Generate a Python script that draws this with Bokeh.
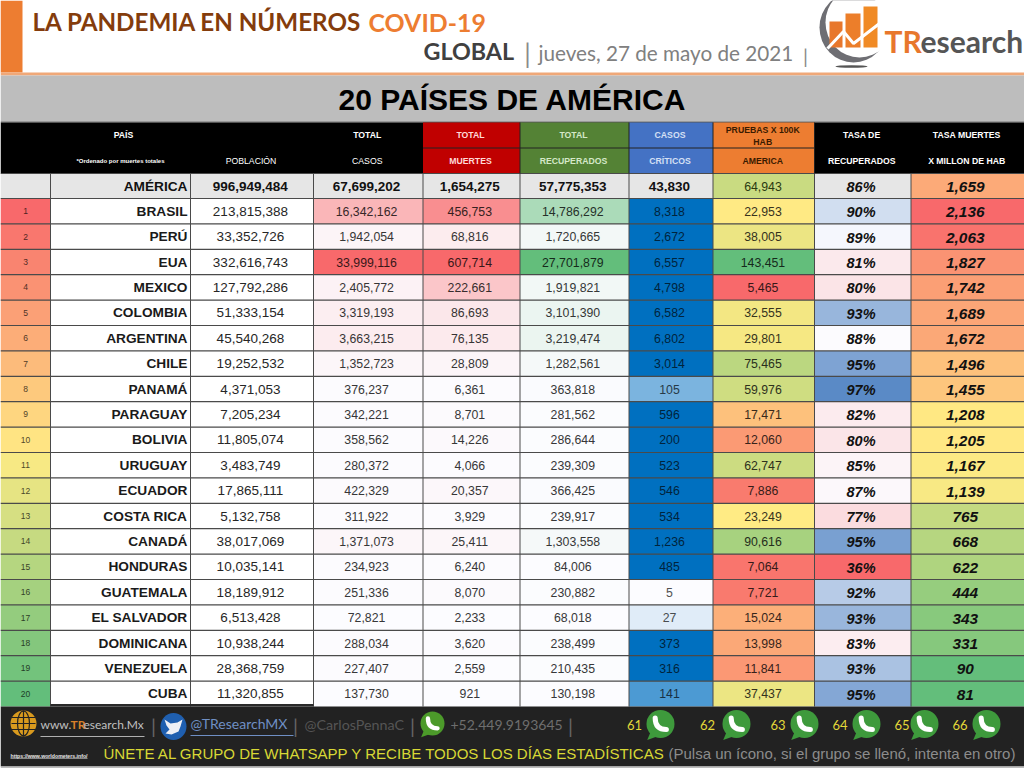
from bokeh.plotting import figure
from bokeh.models import Range1d
from bokeh.core.properties import value
from bokeh.embed import file_html
from bokeh.resources import INLINE
import numpy as np

# ---------- data ----------
PAISES = ["BRASIL", "PERÚ", "EUA", "MEXICO", "COLOMBIA", "ARGENTINA", "CHILE", "PANAMÁ", "PARAGUAY", "BOLIVIA",
          "URUGUAY", "ECUADOR", "COSTA RICA", "CANADÁ", "HONDURAS", "GUATEMALA", "EL SALVADOR", "DOMINICANA",
          "VENEZUELA", "CUBA"]
POBLACION = [213815388, 33352726, 332616743, 127792286, 51333154, 45540268, 19252532, 4371053, 7205234, 11805074,
             3483749, 17865111, 5132758, 38017069, 10035141, 18189912, 6513428, 10938244, 28368759, 11320855]
CASOS = [16342162, 1942054, 33999116, 2405772, 3319193, 3663215, 1352723, 376237, 342221, 358562,
         280372, 422329, 311922, 1371073, 234923, 251336, 72821, 288034, 227407, 137730]
MUERTES = [456753, 68816, 607714, 222661, 86693, 76135, 28809, 6361, 8701, 14226,
           4066, 20357, 3929, 25411, 6240, 8070, 2233, 3620, 2559, 921]
RECUPERADOS = [14786292, 1720665, 27701879, 1919821, 3101390, 3219474, 1282561, 363818, 281562, 286644,
               239309, 366425, 239917, 1303558, 84006, 230882, 68018, 238499, 210435, 130198]
CRITICOS = [8318, 2672, 6557, 4798, 6582, 6802, 3014, 105, 596, 200, 523, 546, 534, 1236, 485, 5, 27, 373, 316, 141]
PRUEBAS = [22953, 38005, 143451, 5465, 32555, 29801, 75465, 59976, 17471, 12060,
           62747, 7886, 23249, 90616, 7064, 7721, 15024, 13998, 11841, 37437]
TASA_REC = [90, 89, 81, 80, 93, 88, 95, 97, 82, 80, 85, 87, 77, 95, 36, 92, 93, 83, 93, 95]
TASA_MUE = [2136, 2063, 1827, 1742, 1689, 1672, 1496, 1455, 1208, 1205, 1167, 1139, 765, 668, 622, 444, 343, 331, 90, 81]
AMERICA = {"pais": "AMÉRICA", "pob": 996949484, "casos": 67699202, "muertes": 1654275, "rec": 57775353,
           "crit": 43830, "pruebas": 64943, "tasa": 86, "tm": 1659}
HDR_TOP = ["PAÍS", "TOTAL", "TOTAL", "TOTAL", "CASOS", "TASA DE", "TASA MUERTES"]
HDR_BOT = ["POBLACIÓN", "CASOS", "MUERTES", "RECUPERADOS", "CRÍTICOS", "AMERICA", "RECUPERADOS", "X MILLON DE HAB"]
GRUPOS = [61, 62, 63, 64, 65, 66]

# ---------- layout ----------
XE = [0, 50, 190, 313, 422.5, 519.5, 628.5, 712.5, 814, 910.5, 1024]
ROW_H = (706 - 198) / 20
NAR = "Lato"
SANS = "Liberation Sans"


def h2r(h):
    h = h.lstrip("#")
    return [int(h[i:i + 2], 16) for i in (0, 2, 4)]


def lerp(a, b, t):
    t = max(0.0, min(1.0, t))
    ra, rb = h2r(a), h2r(b)
    return "#%02x%02x%02x" % tuple(int(round(x + (y - x) * t)) for x, y in zip(ra, rb))


def scale3(v, lo, mid, hi, c0, c1, c2):
    return lerp(c0, c1, (v - lo) / (mid - lo)) if v <= mid else lerp(c1, c2, (v - mid) / (hi - mid))


RED, YEL, GRN, WHT, BLU, DBL = "#F8696B", "#FFEB84", "#63BE7B", "#FCFCFF", "#5A8AC6", "#0070C0"
GREY_ROW = "#E6E6E6"

p = figure(width=1024, height=768, x_range=Range1d(0, 1024), y_range=Range1d(768, 0),
           output_backend="svg", toolbar_location=None, min_border=0, outline_line_color=None,
           background_fill_color="white", border_fill_color="white")
p.axis.visible = False
p.grid.visible = False


def box(l, r, t, b, c):
    p.quad(left=l, right=r, top=t, bottom=b, fill_color=c, line_color=None)


def txt(x, y, s, size, color="#000000", font=SANS, style="normal", align="center", base="middle"):
    p.text(x=[x], y=[y], text=[s], text_font=value(font), text_font_size=f"{size}px", text_font_style=style,
           text_color=color, text_align=align, text_baseline=base)


def column(i, fills, labels, size=13.5, colors="#1a1a1a", style="normal", dy=0.0, dx=-1.7):
    l = [XE[i]] * len(fills)
    r = [XE[i + 1]] * len(fills)
    t = [198 + ROW_H * k for k in range(len(fills))]
    b = [198 + ROW_H * (k + 1) for k in range(len(fills))]
    p.quad(left=l, right=r, top=t, bottom=b, fill_color=fills, line_color=None)
    cx = (XE[i] + XE[i + 1]) / 2 + dx
    ys = [198 + ROW_H * (k + .5) + dy for k in range(len(fills))]
    tc = colors if isinstance(colors, list) else [colors] * len(fills)
    p.text(x=[cx] * len(fills), y=ys, text=labels, text_font=value(SANS), text_font_size=f"{size}px",
           text_font_style=style, text_color=tc, text_align="center", text_baseline="middle")


# ---------- page furniture ----------
box(0, 22, 0, 72, "#ED7D31")
box(0, 1024, 72, 75, "#F0A878")
box(0, 1024, 75, 121, "#BDBDBD")
box(0, 1024, 121, 122, "#555555")
txt(32, 21, "LA PANDEMIA EN NÚMEROS", 24.2, "#843C0C", NAR, "bold", "left")
txt(368, 21, "COVID-19", 24.9, "#ED7D31", NAR, "bold", "left")
txt(423, 50, "GLOBAL", 23.3, "#404040", NAR, "bold", "left")
txt(527, 52, "|", 26, "#8a8a8a", NAR, "normal")
txt(538, 52, "jueves, 27 de mayo de 2021", 20.7, "#808080", NAR, "normal", "left")
txt(805, 55, "|", 20, "#8a8a8a", NAR, "normal")
txt(512, 99, "20 PAÍSES DE AMÉRICA", 30, "#000000", SANS, "bold")

# logo
p.ellipse(x=[853], y=[27], width=[68], height=[70], fill_color="#6E6E73", line_color=None)
p.ellipse(x=[859], y=[22], width=[68], height=[70], fill_color="white", line_color=None)
p.ellipse(x=[851], y=[66], width=[32], height=[2.5], fill_color="#555555", line_color=None)
for l, r, t, c in [(829, 842, 21, "#E8772C"), (845, 860, 13, "#EC7E2A"), (863, 877, 6, "#F08A25")]:
    box(l, r, t, 47, c)
p.line(x=[827, 843, 853, 879], y=[48, 31, 43, 23], line_color="white", line_width=3)
txt(884, 40, "TR", 30, "#E8772C", NAR, "bold", "left")
txt(920, 40, "esearch", 30, "#555555", NAR, "bold", "left")

# ---------- header ----------
box(0, 1024, 122, 173, "#000000")
HCOLS = [(4, "#C00000"), (5, "#548235"), (6, "#4472C4"), (7, "#ED7D31")]
for i, c in HCOLS:
    box(XE[i], XE[i + 1], 122, 173, c)
    box(XE[i], XE[i + 1], 147, 148, "#222222")
ct = [(XE[1] + XE[2]) / 2 + 4, (XE[3] + XE[4]) / 2, (XE[4] + XE[5]) / 2, (XE[5] + XE[6]) / 2,
      (XE[6] + XE[7]) / 2, (XE[8] + XE[9]) / 2, (XE[9] + XE[10]) / 2]
tcs = ["#FFFFFF", "#FFFFFF", "#FFD9D9", "#D5E8C8", "#D5E0F5", "#FFFFFF", "#FFFFFF"]
for k, s in enumerate(HDR_TOP):
    txt(ct[k] - 1, 134.5, s, 8.7, tcs[k], SANS, "bold")
txt((XE[7] + XE[8]) / 2 - 1, 129.5, "PRUEBAS X 100K", 8.7, "#3A1A00", SANS, "bold")
txt((XE[7] + XE[8]) / 2 - 1, 141.5, "HAB", 8.7, "#3A1A00", SANS, "bold")
txt(120, 160, "*Ordenado por muertes totales", 6, "#FFFFFF", SANS, "bold")
cb = [(XE[i] + XE[i + 1]) / 2 - 1 for i in range(2, 10)]
tb = ["#FFFFFF", "#FFFFFF", "#FFD9D9", "#D5E8C8", "#D5E0F5", "#3A1A00", "#FFFFFF", "#FFFFFF"]
for k, s in enumerate(HDR_BOT):
    txt(cb[k], 160.5, s, 8.7, tb[k], SANS, "bold" if k >= 2 else "normal")

# ---------- colour scales ----------
n = len(PAISES)
tasa_real = [100 * a / b for a, b in zip(RECUPERADOS, CASOS)]
rank_f = [scale3(k + 1, 1, 10.5, 20, RED, YEL, GRN) for k in range(n)]
cas_f = [lerp(WHT, RED, (v - min(CASOS)) / (max(CASOS) - min(CASOS))) for v in CASOS]
mue_f = [lerp(WHT, RED, (v - min(MUERTES)) / (max(MUERTES) - min(MUERTES))) for v in MUERTES]
rec_f = [lerp(WHT, GRN, (v - min(RECUPERADOS)) / (max(RECUPERADOS) - min(RECUPERADOS))) for v in RECUPERADOS]
crit_f = [lerp(WHT, DBL, (v - 5) / 195) for v in CRITICOS]
pr_med = float(np.median(PRUEBAS))
pr = lambda v: scale3(v, min(PRUEBAS), pr_med, max(PRUEBAS), RED, YEL, GRN)
pru_f = [pr(v) for v in PRUEBAS]
tr_med = float(np.median(tasa_real))
tas_f = [scale3(v, min(tasa_real), tr_med, max(tasa_real), RED, WHT, BLU) for v in tasa_real]
tm_med = float(np.median(TASA_MUE))
tm = lambda v: scale3(v, min(TASA_MUE), tm_med, max(TASA_MUE), GRN, YEL, RED)
tmu_f = [tm(v) for v in TASA_MUE]

fmt = lambda a: [f"{v:,}" for v in a]
dark = lambda fills, t: [lerp(f, "#000000", t) for f in fills]

# ---------- America row ----------
box(0, 1024, 173, 198, GREY_ROW)
box(XE[7], XE[8], 173, 198, pr(AMERICA["pruebas"]))
box(XE[9], XE[10], 173, 198, tm(AMERICA["tm"]))
txt(XE[2] - 3, 185.5, AMERICA["pais"], 13.7, "#111111", SANS, "bold", "right")
for i, key in [(2, "pob"), (3, "casos"), (4, "muertes"), (5, "rec"), (6, "crit")]:
    txt((XE[i] + XE[i + 1]) / 2 - 1.7, 185.5, f"{AMERICA[key]:,}", 13.5, "#111111", SANS, "bold")
txt((XE[7] + XE[8]) / 2 - 0.8, 185.5, f"{AMERICA['pruebas']:,}", 12.3, "#2a3a10")
txt((XE[8] + XE[9]) / 2 - 1.7, 186.5, f"{AMERICA['tasa']}%", 14.5, "#111111", SANS, "bold italic")
txt((XE[9] + XE[10]) / 2 - 2.5, 186.5, f"{AMERICA['tm']:,}", 15.4, "#111111", SANS, "bold italic")

# ---------- body ----------
column(0, rank_f, [str(k + 1) for k in range(n)], size=8.5, colors=dark(rank_f, .68), dx=0)
box(XE[1], XE[3], 198, 706, "#FFFFFF")
ys = [198 + ROW_H * (k + .5) for k in range(n)]
p.text(x=[XE[2] - 3] * n, y=ys, text=PAISES, text_font=value(SANS), text_font_size="13.7px", text_font_style="bold",
       text_color="#1a1a1a", text_align="right", text_baseline="middle")
p.text(x=[(XE[2] + XE[3]) / 2 - 1.6] * n, y=ys, text=fmt(POBLACION), text_font=value(SANS), text_font_size="13.5px",
       text_color="#262626", text_align="center", text_baseline="middle")
column(3, cas_f, fmt(CASOS), size=12.3, colors=dark(cas_f, .78))
column(4, mue_f, fmt(MUERTES), size=12.3, colors=dark(mue_f, .78))
column(5, rec_f, fmt(RECUPERADOS), size=12.3, colors=dark(rec_f, .78))
column(6, crit_f, fmt(CRITICOS), size=12.3, colors=dark(crit_f, .68), dx=-1.5)
column(7, pru_f, fmt(PRUEBAS), size=12.3, colors=dark(pru_f, .78), dx=-0.8)
column(8, tas_f, [f"{v}%" for v in TASA_REC], size=14.5, colors="#111111", style="bold italic", dy=1)
column(9, tmu_f, fmt(TASA_MUE), size=15.4, colors="#111111", style="bold italic", dy=1, dx=-2.5)

# ---------- grid lines ----------
hy = [173, 198] + [198 + ROW_H * k for k in range(1, 20)]
p.segment(x0=[0] * len(hy), x1=[1024] * len(hy), y0=hy, y1=hy, line_color="#4a4a4a", line_width=1.2)
vx = XE[1:-1]
p.segment(x0=vx, x1=vx, y0=[173] * len(vx), y1=[706] * len(vx), line_color="#4a4a4a", line_width=1)
p.segment(x0=XE[5:9], x1=XE[5:9], y0=[122] * 4, y1=[173] * 4, line_color="#222222", line_width=1)
box(XE[1], XE[3], 703.5, 706, "#2a2a2a")

# ---------- footer ----------
box(0, 1024, 706, 766, "#222222")
box(0, 1024, 766, 768, "#BBBBBB")
# globe
p.ellipse(x=[23], y=[723], width=[26], height=[26], fill_color="#D99A1E", line_color=None)
p.ellipse(x=[23], y=[723], width=[12], height=[25], fill_color=None, line_color="#222222", line_width=1.2)
p.segment(x0=[11, 11, 11, 23], x1=[35, 35, 35, 23], y0=[717, 723, 729, 710], y1=[717, 723, 729, 736],
          line_color="#222222", line_width=1.2)
txt(40, 724, "www.", 12, "#C0C0C0", NAR, "normal", "left")
txt(70, 724, "TR", 12, "#D9812A", NAR, "bold", "left")
txt(83, 724, "esearch.Mx", 12, "#C0C0C0", NAR, "normal", "left")
p.segment(x0=[40], x1=[144], y0=[736], y1=[736], line_color="#B0B0B0", line_width=1)
txt(153, 725, "|", 20, "#666666", NAR)
# twitter
p.ellipse(x=[173], y=[726], width=[26], height=[27], fill_color="#1F5FAF", line_color=None)
p.patch(x=[164, 170, 177, 182, 180, 178, 171, 165, 169, 166], y=[719, 723, 722, 719, 726, 731, 734, 733, 729, 725],
        fill_color="#EDEFF5", line_color=None)
txt(190, 723, "@TResearchMX", 14, "#6F8FC4", NAR, "normal", "left")
p.segment(x0=[190], x1=[293], y0=[735], y1=[735], line_color="#6F8FC4", line_width=1)
txt(295, 725, "|", 20, "#666666", NAR)
txt(304, 724, "@CarlosPennaC", 14.3, "#555555", NAR, "normal", "left")
txt(412, 725, "|", 20, "#666666", NAR)


def wa(cx, cy, r, c="#3E9A3C"):
    p.patch(x=[cx - r * .7, cx - r * .95, cx - r * .25], y=[cy + r * .55, cy + r * 1.15, cy + r * .9],
            fill_color=c, line_color=None)
    p.ellipse(x=[cx], y=[cy], width=[2 * r], height=[2 * r], fill_color=c, line_color=None)
    p.quadratic(x0=[cx - r * .38], y0=[cy - r * .42], x1=[cx + r * .42], y1=[cy + r * .4], cx=[cx - r * .38],
                cy=[cy + r * .4], line_color="white", line_width=r * .36, line_cap="round")


wa(432, 723, 12, "#4C9A2A")
txt(450, 724, "+52.449.9193645", 14, "#6E6E6E", NAR, "normal", "left")
txt(570, 725, "|", 20, "#666666", NAR)
NUM_X = [634, 707, 777.5, 839.5, 901.5, 959.5]
ICON_X = [660, 736, 804, 866, 924, 986]
for g, nx, ix in zip(GRUPOS, NUM_X, ICON_X):
    txt(nx, 724, str(g), 13, "#E3D93A", NAR)
    wa(ix, 723.5, 14)
txt(10, 755, "https://www.worldometers.info/", 5.2, "#E8E8E8", SANS, "bold", "left")
p.segment(x0=[10], x1=[87], y0=[758], y1=[758], line_color="#CCCCCC", line_width=.6)
txt(103, 753, "ÚNETE AL GRUPO DE WHATSAPP Y RECIBE TODOS LOS DÍAS ESTADÍSTICAS", 15.05, "#D8D835", SANS, "normal", "left")
txt(668, 753, "(Pulsa un ícono, si el grupo se llenó, intenta en otro)", 15, "#8C8C8C", SANS, "normal", "left")

open("out.html", "w").write(file_html(p, INLINE))
